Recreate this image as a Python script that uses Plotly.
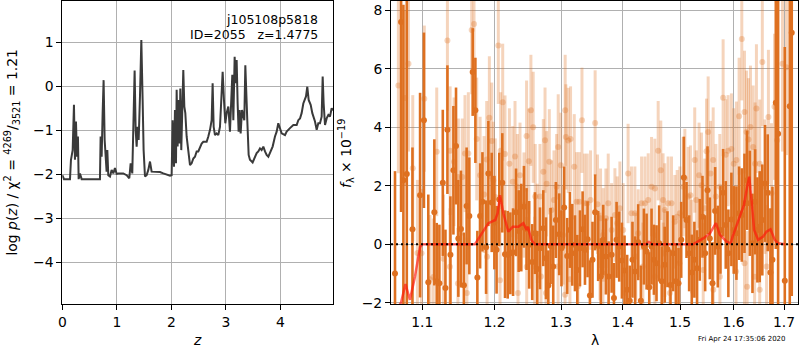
import plotly.graph_objects as go

# ---------------- left panel: log p(z) ----------------
z_grid = [0.000, 0.031, 0.141, 0.159, 0.190, 0.214, 0.232, 0.251, 0.269, 0.287, 0.300, 0.324, 0.355,
          0.691, 0.703, 0.722, 0.740, 0.758, 0.777, 0.795, 0.813, 0.826, 0.844, 0.875, 0.905, 0.936,
          0.966, 0.997, 1.028, 1.119, 1.180, 1.229, 1.254, 1.284, 1.303, 1.327, 1.346, 1.364, 1.382,
          1.401, 1.425, 1.450, 1.474, 1.492, 1.517, 1.547, 1.578, 1.609, 1.639, 1.670, 1.731, 1.792,
          1.853, 1.914, 1.976, 2.006, 2.024, 2.049, 2.067, 2.086, 2.098, 2.116, 2.135, 2.153, 2.165,
          2.183, 2.202, 2.220, 2.239, 2.257, 2.281, 2.312, 2.343, 2.373, 2.404, 2.434, 2.465, 2.495,
          2.526, 2.557, 2.587, 2.648, 2.679, 2.710, 2.740, 2.758, 2.777, 2.801, 2.832, 2.862, 2.893,
          2.924, 2.942, 2.966, 2.991, 3.015, 3.046, 3.076, 3.095, 3.119, 3.138, 3.162, 3.180, 3.199,
          3.217, 3.235, 3.254, 3.272, 3.297, 3.315, 3.339, 3.358, 3.376, 3.394, 3.419, 3.443, 3.492,
          3.535, 3.566, 3.596, 3.627, 3.657, 3.688, 3.719, 3.749, 3.780, 3.810, 3.859, 3.902, 3.933,
          3.963, 3.994, 4.024, 4.086, 4.116, 4.177, 4.239, 4.300, 4.330, 4.361, 4.391, 4.422, 4.471,
          4.495, 4.520, 4.557, 4.587, 4.636, 4.667, 4.697, 4.728, 4.758, 4.777, 4.795, 4.820, 4.850,
          4.881, 4.911, 4.942, 4.972]
log_pz = [-2.02, -2.11, -2.11, -1.67, -1.45, -0.42, -1.67, -0.80, -1.60, -1.14, -2.11, -1.98, -2.11,
          -2.11, -1.14, -1.60, -0.61, 0.14, -1.22, -1.64, -1.94, -1.45, -2.02, -2.05, -1.90, -1.98,
          -1.86, -1.99, -1.98, -1.98, -2.02, -2.09, -1.75, -1.98, -1.11, 0.36, -0.99, -1.37, -0.92,
          -1.22, -0.23, 1.05, -0.31, -1.45, -2.05, -2.02, -1.90, -1.71, -1.94, -1.94, -1.94, -1.95,
          -1.98, -2.00, -2.03, -2.02, -0.77, -1.83, -0.54, -1.75, -0.08, -1.37, -0.31, -1.30, -0.05,
          -1.45, -0.61, 0.37, -0.46, -0.61, -1.14, -1.52, -1.79, -1.75, -1.64, -1.60, -1.48, -1.48,
          -1.37, -1.30, -1.26, -1.26, -1.14, -0.99, -0.77, 0.07, -0.92, -1.11, -1.07, -1.11, -0.92,
          -0.23, 0.33, -0.31, -0.84, -0.61, -0.46, -1.03, -0.23, 0.26, -0.77, 0.67, 0.07, 0.60,
          -0.39, -1.03, -0.54, -1.07, -0.54, -0.65, -0.77, 0.48, -0.01, -0.77, -1.56, -1.67, -1.73,
          -1.60, -1.52, -1.48, -1.41, -1.45, -1.37, -1.48, -1.56, -1.60, -1.52, -1.37, -1.14, -1.03,
          -0.84, -0.95, -1.07, -1.11, -1.03, -0.95, -0.88, -0.88, -0.77, -0.73, -0.61, -0.39, -0.23,
          -0.01, -0.31, -0.42, -0.61, -0.80, -0.99, -0.84, -0.84, -0.69, 0.22, -0.39, -0.88, -0.73,
          -0.65, -0.69, -0.50, -0.54]

# ---------------- right panel: spectrum ----------------
dark_wave = [1.0645, 1.0723, 1.0753, 1.0797, 1.0871, 1.0971, 1.1022, 1.1080, 1.1161, 1.1193,
             1.1229, 1.1275, 1.1311, 1.1338, 1.1379, 1.1420, 1.1456, 1.1488, 1.1524, 1.1565,
             1.1603, 1.1641, 1.1688, 1.1726, 1.1754, 1.1793, 1.1826, 1.1878, 1.1911, 1.1959,
             1.1997, 1.2029, 1.2068, 1.2112, 1.2152, 1.2191, 1.2230, 1.2270, 1.2314, 1.2353,
             1.2392, 1.2432, 1.2471, 1.2510, 1.2556, 1.2597, 1.2633, 1.2674, 1.2725, 1.2766,
             1.2802, 1.2837, 1.2878, 1.2919, 1.2971, 1.3006, 1.3048, 1.3096, 1.3139, 1.3176,
             1.3219, 1.3256, 1.3299, 1.3341, 1.3379, 1.3421, 1.3459, 1.3501, 1.3544, 1.3593,
             1.3637, 1.3676, 1.3720, 1.3765, 1.3815, 1.3854, 1.3898, 1.3942, 1.3987, 1.4031,
             1.4076, 1.4120, 1.4166, 1.4212, 1.4264, 1.4310, 1.4362, 1.4409, 1.4455, 1.4495,
             1.4536, 1.4582, 1.4628, 1.4674, 1.4727, 1.4775, 1.4829, 1.4877, 1.4925, 1.4973,
             1.5022, 1.5070, 1.5118, 1.5166, 1.5214, 1.5262, 1.5311, 1.5361, 1.5411, 1.5461,
             1.5505, 1.5548, 1.5598, 1.5648, 1.5698, 1.5748, 1.5799, 1.5849, 1.5899, 1.5957,
             1.6002, 1.6054, 1.6106, 1.6158, 1.6210, 1.6262, 1.6315, 1.6367, 1.6419, 1.6464,
             1.6510, 1.6562, 1.6616, 1.6670, 1.6724, 1.6765, 1.6833, 1.6880, 1.7016, 1.7118,
             1.7159]
dark_flux = [-1.0, 7.6, 2.19, 2.4, 0.51, 1.68, 4.24, -1.3, 1.09, -1.27,
             -1.33, 2.1, -1.5, 3.92, -0.36, 2.53, 3.36, 0.2, 0.52, -1.4,
             1.31, 0.97, 5.89, 4.58, -1.14, 0.97, 1.45, -0.1, 2.42, 1.43,
             0.74, -0.19, 1.53, 2.1, -0.34, -0.36, -0.31, -0.27, 1.09, 0.45,
             0.57, 1.28, 0.52, -0.02, -0.61, 0.38, -0.85, -0.14, 0.55, -0.48,
             -1.41, -0.06, -0.76, 0.83, 0.34, -0.14, 1.26, -0.4, 0.49, -0.02,
             -0.31, -0.88, -0.14, 0.51, -0.19, 0.17, -1.75, -0.53, 1.09, -0.06,
             -1.1, 0.15, -0.42, -1.1, -0.36, -1.84, 0.15, -0.08, -0.56, -0.9,
             -1.56, -1.93, -0.53, -0.93, 0.07, -1.93, -0.08, -0.25, -1.47, -0.08,
             -0.53, -0.65, 0.03, -1.27, -0.7, -0.17, -1.39, -0.31, -1.27, -1.33,
             0.15, 2.28, 0.83, -0.31, -0.97, -0.53, -0.82, 0.15, 0.94, -0.31,
             1.85, 0.2, -1.33, 1.14, -0.08, 0.49, 1.76, 0.66, -0.31, 0.85,
             0.49, 0.38, 1.06, 1.0, 1.4, 2.19, 1.4, 0.03, 1.45, 0.49,
             0.6, 0.83, 2.08, 1.76, -0.97, -0.53, 4.84, 3.78, -1.25, 4.72,
             7.23]
dark_err = [3.5, 6.5, 6.0, 6.0, 2.8, 3.5, 3.0, 3.0, 2.5, 2.0,
            2.0, 2.5, 2.0, 2.2, 2.0, 2.2, 2.0, 2.0, 2.0, 1.8,
            2.0, 2.0, 1.5, 1.8, 1.6, 1.8, 1.7, 1.6, 1.8, 1.7,
            1.6, 1.5, 1.6, 1.7, 1.5, 1.5, 1.4, 1.5, 1.5, 1.4,
            1.5, 1.4, 1.4, 1.5, 1.3, 1.4, 1.3, 1.4, 1.3, 1.4,
            1.2, 1.3, 1.4, 1.3, 1.4, 1.3, 1.4, 1.3, 1.3, 1.4,
            1.3, 1.2, 1.3, 1.3, 1.2, 1.3, 1.2, 1.3, 1.3, 1.2,
            1.3, 1.2, 1.3, 1.2, 1.3, 1.2, 1.3, 1.2, 1.3, 1.2,
            1.2, 1.2, 1.3, 1.2, 1.3, 1.2, 1.3, 1.3, 1.2, 1.3,
            1.2, 1.3, 1.3, 1.2, 1.3, 1.3, 1.2, 1.3, 1.3, 1.2,
            1.3, 1.4, 1.3, 1.3, 1.3, 1.3, 1.3, 1.4, 1.4, 1.3,
            1.5, 1.4, 1.4, 1.5, 1.4, 1.5, 1.5, 1.5, 1.5, 1.6,
            1.5, 1.6, 1.6, 1.6, 1.7, 1.7, 1.8, 1.7, 1.8, 1.8,
            1.9, 1.9, 2.0, 2.0, 2.2, 2.5, 5.0, 6.0, 8.0, 9.0,
            9.0]

light_wave = [1.0688, 1.0775, 1.0819, 1.0875, 1.0936, 1.1027, 1.1102, 1.1193, 1.1284, 1.1338,
              1.1375, 1.1429, 1.1488, 1.1542, 1.1580, 1.1627, 1.1674, 1.1707, 1.1745, 1.1793,
              1.1849, 1.1887, 1.1925, 1.1959, 1.1982, 1.2010, 1.2054, 1.2088, 1.2118, 1.2152,
              1.2216, 1.2265, 1.2299, 1.2334, 1.2373, 1.2432, 1.2471, 1.2505, 1.2536, 1.2571,
              1.2602, 1.2633, 1.2674, 1.2725, 1.2751, 1.2776, 1.2817, 1.2853, 1.2889, 1.2930,
              1.2955, 1.2996, 1.3032, 1.3064, 1.3075, 1.3112, 1.3149, 1.3208, 1.3245, 1.3288,
              1.3331, 1.3373, 1.3416, 1.3469, 1.3544, 1.3582, 1.3632, 1.3676, 1.3720, 1.3759,
              1.3815, 1.3870, 1.3909, 1.3953, 1.4009, 1.4092, 1.4149, 1.4207, 1.4264, 1.4322,
              1.4380, 1.4437, 1.4495, 1.4553, 1.4611, 1.4657, 1.4697, 1.4727, 1.4787, 1.4847,
              1.4907, 1.4949, 1.4997, 1.5058, 1.5088, 1.5148, 1.5190, 1.5268, 1.5298, 1.5348,
              1.5392, 1.5455, 1.5486, 1.5517, 1.5561, 1.5611, 1.5661, 1.5736, 1.5799, 1.5849,
              1.5893, 1.5957, 1.6002, 1.6054, 1.6106, 1.6158, 1.6210, 1.6249, 1.6288, 1.6327,
              1.6380, 1.6419, 1.6445, 1.6510, 1.6562, 1.6616, 1.6684, 1.6745, 1.6806, 1.6860,
              1.6968, 1.7050,
              1.0990, 1.1147, 1.1372, 1.1482, 1.1607, 1.1892, 1.2079, 1.2343, 1.2473, 1.2593,
              1.2689, 1.2766, 1.2953, 1.3062, 1.3139, 1.3266, 1.3622, 1.3671, 1.4031, 1.4224,
              1.4345, 1.4554, 1.4730, 1.4699, 1.4818, 1.4990, 1.5211, 1.5425, 1.5613, 1.5738,
              1.6046, 1.6210, 1.6262, 1.6409, 1.6510, 1.6647]
light_flux = [5.43, 5.0, 6.17, 2.6, -0.3, 4.98, -1.2, 3.16, -0.5, 6.97,
              3.2, 2.82, 2.3, 2.3, 3.1, 3.1, 7.33, 7.53, 3.6, 2.36,
              1.7, 2.9, 4.33, 3.53, 2.19, 1.62, 6.8, 3.2, 4.86, 3.09,
              2.75, 2.14, 3.0, 1.97, 2.36, 1.34, 3.7, 2.84, 4.58, 4.0,
              1.63, 0.37, 1.63, 2.48, 3.56, 2.07, 2.82, 1.17, 1.51, 1.97,
              3.33, 2.7, 0.32, 4.58, 3.67, 3.55, 3.6, 2.65, 1.45, 1.45,
              4.24, 1.4, 1.4, 1.51, 4.15, 1.37, 0.89, 0.32, 0.89, 1.4,
              0.49, 1.0, 0.72, 1.23, 0.49, 2.42, 1.06, 1.06, 0.38, 1.4,
              1.4, 1.51, 1.97, 1.91, 3.2, 2.53, 1.51, 1.17, 1.4, 1.4,
              0.77, 0.94, 1.06, 1.97, 2.25, 1.63, 1.68, 2.88, 1.51, 2.36,
              2.02, 1.23, 3.18, 3.84, 2.42, 2.88, 1.63, 1.97, 5.01, 3.06,
              3.2, 3.26, 2.75, 2.88, 4.38, 7.02, 4.52, 3.84, 3.58, 4.01,
              3.33, 2.75, 4.64, 2.75, 6.23, 1.97, 4.35, 1.74, 4.7, 3.56,
              6.17, 6.05,
              -0.31, -1.12, -0.77, -1.34, -1.67, -0.43, -1.23, -1.67, -0.77, -0.76,
              -1.1, -1.67, -0.76, -1.73, -1.2, -1.44, -0.42, -1.0, -1.67, -0.42,
              -0.76, -1.1, -0.3, -0.76, -1.67, -0.65, -0.08, -0.88, -1.56, -1.11,
              -0.93, -0.65, -1.45, -1.11, -1.56, -0.76]
light_err = [3.0, 3.0, 3.0, 2.5, 2.5, 2.5, 2.2, 2.2, 2.2, 2.4,
             2.2, 2.2, 2.0, 2.0, 2.0, 2.1, 2.2, 2.2, 2.1, 2.0,
             2.0, 2.0, 2.1, 2.0, 2.0, 2.0, 2.0, 2.0, 2.0, 2.0,
             1.9, 1.9, 1.9, 1.8, 1.8, 1.8, 1.9, 1.8, 1.9, 1.9,
             1.8, 1.7, 1.8, 1.8, 1.8, 1.8, 1.8, 1.7, 1.7, 1.8,
             1.8, 1.8, 1.7, 1.9, 1.8, 1.8, 1.8, 1.8, 1.7, 1.7,
             1.8, 1.7, 1.7, 1.7, 1.8, 1.7, 1.7, 1.6, 1.7, 1.7,
             1.6, 1.6, 1.6, 1.6, 1.6, 1.7, 1.6, 1.6, 1.5, 1.6,
             1.6, 1.6, 1.7, 1.7, 1.7, 1.7, 1.6, 1.6, 1.6, 1.6,
             1.6, 1.6, 1.6, 1.7, 1.7, 1.7, 1.7, 1.8, 1.7, 1.8,
             1.8, 1.7, 1.8, 1.9, 1.8, 1.8, 1.8, 1.8, 2.0, 1.9,
             1.9, 1.9, 1.9, 2.0, 2.0, 2.1, 2.1, 2.1, 2.1, 2.1,
             2.1, 2.1, 2.2, 2.2, 2.2, 2.3, 2.3, 2.4, 2.5, 2.6,
             3.0, 3.0,
             2.2, 2.0, 2.0, 1.9, 1.9, 1.8, 1.8, 1.7, 1.7, 1.7,
             1.6, 1.6, 1.6, 1.6, 1.6, 1.6, 1.5, 1.5, 1.5, 1.5,
             1.5, 1.5, 1.5, 1.5, 1.5, 1.5, 1.6, 1.6, 1.6, 1.7,
             1.8, 1.9, 1.9, 2.0, 2.0, 2.1]

model_wave = [1.0645, 1.0722, 1.0780, 1.0810, 1.0838, 1.0904, 1.0970, 1.1000, 1.1720, 1.1820,
              1.1912, 1.2010, 1.2044, 1.2079, 1.2127, 1.2200, 1.2265, 1.2348, 1.2422, 1.2473,
              1.2492, 1.2542, 1.2593, 1.4400, 1.4450, 1.4500, 1.5240, 1.5425, 1.5550, 1.5662,
              1.5738, 1.5865, 1.5945, 1.5980, 1.6121, 1.6199, 1.6263, 1.6302, 1.6349, 1.6400,
              1.6479, 1.6578, 1.6645, 1.6726, 1.6812, 1.6880, 1.7016]
model_flux = [-2.3, -2.0, -1.36, -1.6, -1.9, -1.1, -0.1, 0.0, 0.0, 0.38,
              0.72, 0.83, 1.06, 1.68, 1.06, 0.43, 0.6, 0.6, 0.72, 0.49,
              0.6, 0.15, 0.0, 0.0, 0.08, 0.0, 0.0, 0.2, 0.37, 0.72,
              0.32, 0.09, 0.03, 0.26, 0.94, 1.34, 1.97, 2.31, 1.51, 0.49,
              0.15, 0.26, 0.43, 0.51, 0.15, 0.03, 0.0]

x_ticks_left = [0, 1, 2, 3, 4]
y_ticks_left = [-4, -3, -2, -1, 0, 1]
x_ticks_right = [1.1, 1.2, 1.3, 1.4, 1.5, 1.6, 1.7]
y_ticks_right = [-2, 0, 2, 4, 6, 8]


def lab(v):
    s = str(v)
    return s.replace("-", "\u2212")


FONT = "DejaVu Sans"
TICKFS = 13.9
DARK = "rgb(222,112,32)"
LIGHT = "rgba(222,112,32,0.3)"

fig = go.Figure()
fig.add_trace(go.Scatter(x=z_grid, y=log_pz, mode="lines",
                         line=dict(color="#3a3a3a", width=2),
                         xaxis="x", yaxis="y", showlegend=False, hoverinfo="skip"))
fig.add_trace(go.Scatter(x=light_wave, y=light_flux, mode="markers",
                         marker=dict(color=LIGHT, size=6, line=dict(width=0)),
                         error_y=dict(type="data", array=light_err, color=LIGHT,
                                      thickness=3, width=0),
                         xaxis="x2", yaxis="y2", showlegend=False, hoverinfo="skip"))
fig.add_trace(go.Scatter(x=dark_wave, y=dark_flux, mode="markers",
                         marker=dict(color=DARK, size=6, line=dict(width=0)),
                         error_y=dict(type="data", array=dark_err, color=DARK,
                                      thickness=2.6, width=0),
                         xaxis="x2", yaxis="y2", showlegend=False, hoverinfo="skip"))
fig.add_trace(go.Scatter(x=model_wave, y=model_flux, mode="lines",
                         line=dict(color="rgba(255,20,10,0.65)", width=2.5),
                         xaxis="x2", yaxis="y2", showlegend=False, hoverinfo="skip"))

axis_common = dict(showgrid=True, gridcolor="#b0b0b0", gridwidth=1, showline=True,
                   mirror=True, linecolor="black", linewidth=1, ticks="outside",
                   ticklen=5, tickwidth=1, tickcolor="black", zeroline=False,
                   tickfont=dict(family=FONT, size=TICKFS, color="black"),
                   automargin=False, tickmode="array")

ydom = [1 - 304 / 350, 1 - 1 / 350]
fig.update_layout(
    width=800, height=350,
    margin=dict(l=0, r=0, t=0, b=0),
    paper_bgcolor="white", plot_bgcolor="white",
    font=dict(family=FONT, color="black"),
    xaxis=dict(domain=[62.3 / 800, 333.3 / 800], range=[0, 4.972], anchor="y",
               tickvals=x_ticks_left, ticktext=[lab(v) for v in x_ticks_left], **axis_common),
    yaxis=dict(domain=ydom, range=[-4.948, 1.939], anchor="x",
               tickvals=y_ticks_left, ticktext=[lab(v) for v in y_ticks_left], **axis_common),
    xaxis2=dict(domain=[391 / 800, 798 / 800], type="log", range=[0.02505, 0.23776],
                anchor="y2", tickvals=x_ticks_right,
                ticktext=[lab(v) for v in x_ticks_right], **axis_common),
    yaxis2=dict(domain=ydom, range=[-2.044, 8.32], anchor="x2",
                tickvals=y_ticks_right, ticktext=[lab(v) for v in y_ticks_right], **axis_common),
)

fig.add_shape(type="line", xref="x2 domain", yref="y2", x0=0, x1=1, y0=0, y1=0,
              line=dict(color="black", width=2, dash="2px,3px"), layer="above")

ann = [
    dict(text="j105108p5818", x=319.8 / 800, y=1 - 19.5 / 350, xanchor="right",
         yanchor="middle", font=dict(size=12.5)),
    dict(text="ID=2055   z=1.4775", x=319.8 / 800, y=1 - 34 / 350, xanchor="right",
         yanchor="middle", font=dict(size=12.5)),
    dict(text="<i>z</i>", x=197.8 / 800, y=1 - 340 / 350, xanchor="center",
         yanchor="middle", font=dict(size=TICKFS)),
    dict(text="λ", x=594.5 / 800, y=1 - 340 / 350, xanchor="center",
         yanchor="middle", font=dict(size=TICKFS)),
    dict(text="log <i>p</i>(<i>z</i>) / χ<sup>2</sup> = <sup>4269</sup>/<sub>3521</sub> = 1.21",
         x=12 / 800, y=1 - 152.5 / 350, xanchor="center", yanchor="middle",
         textangle=-90, font=dict(size=TICKFS)),
    dict(text="<i>f</i><sub>λ</sub> × 10<sup>−19</sup>", x=346 / 800, y=1 - 154 / 350,
         xanchor="center", yanchor="middle", textangle=-90, font=dict(size=TICKFS)),
    dict(text="Fri Apr 24 17:35:06 2020", x=788 / 800, y=1 - 339 / 350,
         xanchor="right", yanchor="middle", font=dict(size=7)),
]
for a in ann:
    a.update(xref="paper", yref="paper", showarrow=False)
    a["font"] = dict(family=FONT, color="black", **a["font"])
    fig.add_annotation(**a)

fig.write_html(
    "out.html",
    config={"displayModeBar": False},
    post_script="document.body.style.margin='0';document.body.style.padding='0';"
                "document.body.style.overflow='hidden';",
)
